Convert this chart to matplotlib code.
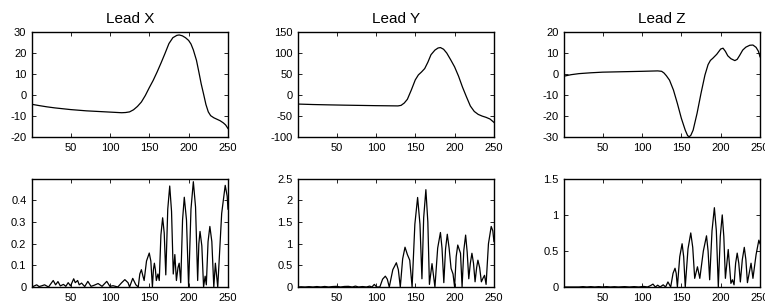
import matplotlib
matplotlib.use("Agg")
import matplotlib.pyplot as plt
from matplotlib.ticker import FuncFormatter

plt.rcParams["font.family"] = ["Liberation Sans", "DejaVu Sans"]

titles = ["Lead X", "Lead Y", "Lead Z"]

# top row: lead signals
lead_x_t = [1, 10, 20, 30, 40, 50, 60, 70, 80, 90, 100, 110, 115, 120, 125, 130, 135, 140,
            145, 150, 155, 160, 165, 170, 175, 180, 185, 188, 192, 196, 200, 203, 206, 210,
            213, 216, 219, 222, 225, 228, 232, 236, 240, 244, 247, 250]
lead_x_v = [-4.4, -5.0, -5.6, -6.1, -6.5, -6.9, -7.2, -7.5, -7.7, -7.9, -8.1, -8.3, -8.4,
            -8.3, -8.0, -7.0, -5.4, -3.3, -0.2, 3.5, 7.0, 11.0, 15.3, 19.8, 24.5, 27.3, 28.4,
            28.6, 28.2, 27.3, 26.0, 24.3, 21.5, 16.5, 11.0, 5.3, 0.5, -4.5, -8.0, -9.8, -10.8,
            -11.5, -12.2, -13.2, -14.2, -15.9]

lead_y_t = [1, 20, 40, 60, 80, 100, 120, 128, 132, 136, 140, 145, 150, 154, 158, 162, 166,
            170, 175, 179, 182, 186, 190, 195, 200, 205, 210, 215, 220, 225, 230, 235, 240,
            245, 250]
lead_y_v = [-21.4, -22.5, -23.3, -24.0, -24.6, -25.2, -25.6, -25.8, -24.5, -19.0, -10.0,
            12.0, 36.0, 48.0, 55.0, 63.0, 78.0, 96.0, 107.0, 112.0, 113.0, 109.0, 100.0, 84.0,
            67.0, 45.0, 19.0, -4.0, -26.0, -39.0, -46.0, -50.0, -53.0, -57.0, -65.0]

lead_z_t = [1, 10, 20, 35, 50, 75, 100, 120, 125, 128, 131, 135, 140, 145, 150, 155, 158,
            160, 162, 165, 170, 175, 180, 184, 187, 190, 195, 200, 203, 206, 209, 213, 218,
            221, 224, 228, 232, 237, 241, 245, 248, 250]
lead_z_v = [-1.0, -0.3, 0.2, 0.6, 0.9, 1.1, 1.3, 1.5, 1.3, 0.5, -0.8, -2.9, -7.6, -14.0,
            -21.0, -26.7, -29.3, -29.8, -29.2, -26.7, -18.7, -9.2, -0.5, 4.5, 6.5, 7.5, 9.4,
            11.9, 12.3, 10.8, 8.7, 7.3, 6.4, 7.0, 8.8, 11.4, 12.8, 13.7, 13.8, 12.7, 10.8, 8.2]

# bottom row: spectra
spec_x_t = [1, 4, 7, 10, 13, 17, 22, 25, 28, 31, 34, 37, 41, 44, 47, 50, 54, 56, 59, 61, 64,
            68, 72, 76, 80, 85, 90, 96, 100, 104, 110, 115, 119, 123, 125, 129, 133, 136,
            138, 140, 142, 143.5, 146.5, 150, 152, 154, 155.3, 156.5, 157.8, 159, 161, 162.7,
            164.8, 167, 169, 171, 173.5, 176, 178.3, 180.5, 182.5, 184.5, 186.5, 188, 190,
            192.3, 194.5, 197.3, 200, 203, 206, 208.8, 211.5, 213, 214.5, 216.8, 219, 221,
            222.5, 224.7, 227, 229.5, 232, 234, 237, 242, 246.5, 249, 250]
spec_x_v = [0.0, 0.005, 0.01, 0.002, 0.005, 0.01, 0.0, 0.015, 0.03, 0.01, 0.025, 0.005,
            0.012, 0.003, 0.02, 0.005, 0.038, 0.02, 0.03, 0.01, 0.018, 0.002, 0.026, 0.003,
            0.008, 0.016, 0.003, 0.026, 0.003, 0.006, 0.0, 0.02, 0.034, 0.02, 0.0, 0.04, 0.01,
            0.0, 0.06, 0.08, 0.05, 0.03, 0.12, 0.157, 0.12, 0.0, 0.08, 0.11, 0.08, 0.03, 0.06,
            0.03, 0.24, 0.32, 0.25, 0.056, 0.36, 0.467, 0.35, 0.06, 0.15, 0.03, 0.09, 0.11,
            0.02, 0.31, 0.415, 0.31, 0.0, 0.36, 0.487, 0.37, 0.03, 0.2, 0.257, 0.19, 0.0,
            0.05, 0.01, 0.21, 0.28, 0.21, 0.0, 0.11, 0.0, 0.34, 0.47, 0.42, 0.36]

spec_y_t = [1, 5, 10, 15, 20, 25, 30, 35, 40, 45, 50, 55, 60, 65, 70, 74, 78, 83, 88, 92, 95,
            98, 101, 105, 108.5, 112, 114.5, 117, 121.5, 126, 128.5, 131, 134, 137, 140, 143,
            146, 149.5, 153, 156, 158.5, 160.7, 163.5, 166, 168, 171.3, 175, 178.5, 182, 184,
            186.3, 188.5, 190.7, 193, 195.5, 198, 200, 202, 204, 207.5, 209.5, 211.7, 214,
            216, 218, 220, 222, 224, 226, 228, 229.6, 231.8, 234, 236, 238, 240, 243, 246.5,
            248.5, 250]
spec_y_v = [0.0, 0.005, 0.0, 0.008, 0.0, 0.01, 0.0, 0.012, 0.0, 0.01, 0.015, 0.0, 0.012,
            0.015, 0.0, 0.02, 0.0, 0.01, 0.0, 0.02, 0.0, 0.06, 0.0, 0.0, 0.18, 0.25, 0.18, 0.0,
            0.4, 0.56, 0.4, 0.0, 0.65, 0.92, 0.75, 0.62, 0.0, 1.45, 2.07, 1.45, 0.19, 1.6,
            2.25, 1.5, 0.06, 0.54, 0.0, 0.9, 1.26, 0.9, 0.1, 0.88, 1.22, 0.9, 0.43, 0.3, 0.0,
            0.7, 0.97, 0.78, 0.0, 0.85, 1.2, 0.8, 0.19, 0.55, 0.78, 0.55, 0.12, 0.45, 0.62,
            0.45, 0.12, 0.2, 0.27, 0.06, 1.0, 1.4, 1.3, 1.05]

spec_z_t = [1, 20, 25, 30, 35, 40, 45, 50, 55, 60, 65, 70, 78, 84, 90, 96, 102, 107, 111,
            114, 117, 120, 123, 127, 130, 133, 136.5, 139.5, 142, 143.5, 145, 148, 151, 153,
            155, 158.5, 162, 164.5, 167, 170.5, 173.5, 178, 182, 184, 186, 189, 192, 194.5,
            197, 199.5, 202, 204, 206, 209.6, 213, 215, 217, 219, 221, 223, 225, 227.5, 230,
            232, 234, 238.6, 241, 245, 248.5, 250]
spec_z_v = [0.0, 0.0, 0.005, 0.0, 0.005, 0.0, 0.005, 0.0, 0.005, 0.0, 0.004, 0.0, 0.005,
            0.0, 0.005, 0.0, 0.008, 0.0, 0.02, 0.04, 0.0, 0.025, 0.0, 0.03, 0.0, 0.07, 0.0,
            0.19, 0.26, 0.19, 0.0, 0.42, 0.6, 0.42, 0.0, 0.53, 0.75, 0.55, 0.12, 0.28, 0.12,
            0.5, 0.71, 0.5, 0.1, 0.78, 1.1, 0.78, 0.0, 0.7, 1.0, 0.7, 0.12, 0.52, 0.05, 0.1,
            0.03, 0.33, 0.47, 0.33, 0.07, 0.38, 0.55, 0.38, 0.06, 0.33, 0.12, 0.45, 0.65, 0.6]

top_series = [(lead_x_t, lead_x_v), (lead_y_t, lead_y_v), (lead_z_t, lead_z_v)]
bottom_series = [(spec_x_t, spec_x_v), (spec_y_t, spec_y_v), (spec_z_t, spec_z_v)]

top_ylims = [(-20, 30), (-100, 150), (-30, 20)]
top_yticks = [[-20, -10, 0, 10, 20, 30], [-100, -50, 0, 50, 100, 150], [-30, -20, -10, 0, 10, 20]]
bottom_ylims = [(0, 0.5), (0, 2.5), (0, 1.5)]
bottom_yticks = [[0, 0.1, 0.2, 0.3, 0.4], [0, 0.5, 1, 1.5, 2, 2.5], [0, 0.5, 1, 1.5]]
xticks = [50, 100, 150, 200, 250]

fig = plt.figure(figsize=(7.65, 3.02), dpi=100)

lefts = [0.0418, 0.3895, 0.7373]
width = 0.2562
fmt = FuncFormatter(lambda v, p: "%g" % v)


def style(ax, ylim, yticks):
    ax.set_xlim(1, 250)
    ax.set_ylim(*ylim)
    ax.set_xticks(xticks)
    ax.set_yticks(yticks)
    ax.yaxis.set_major_formatter(fmt)
    ax.tick_params(direction="in", length=3, width=0.6, labelsize=8, pad=4,
                   top=True, right=True)
    for s in ax.spines.values():
        s.set_linewidth(1.0)


for i in range(3):
    ax = fig.add_axes([lefts[i], 0.546, width, 0.348])
    t, v = top_series[i]
    ax.plot(t, v, color="black", linewidth=0.9)
    style(ax, top_ylims[i], top_yticks[i])
    ax.set_title(titles[i], fontsize=11, pad=6.5)

    ax = fig.add_axes([lefts[i], 0.0497, width, 0.358])
    t, v = bottom_series[i]
    ax.plot(t, v, color="black", linewidth=0.9)
    style(ax, bottom_ylims[i], bottom_yticks[i])

fig.savefig("out.png", dpi=100)
plt.close(fig)
